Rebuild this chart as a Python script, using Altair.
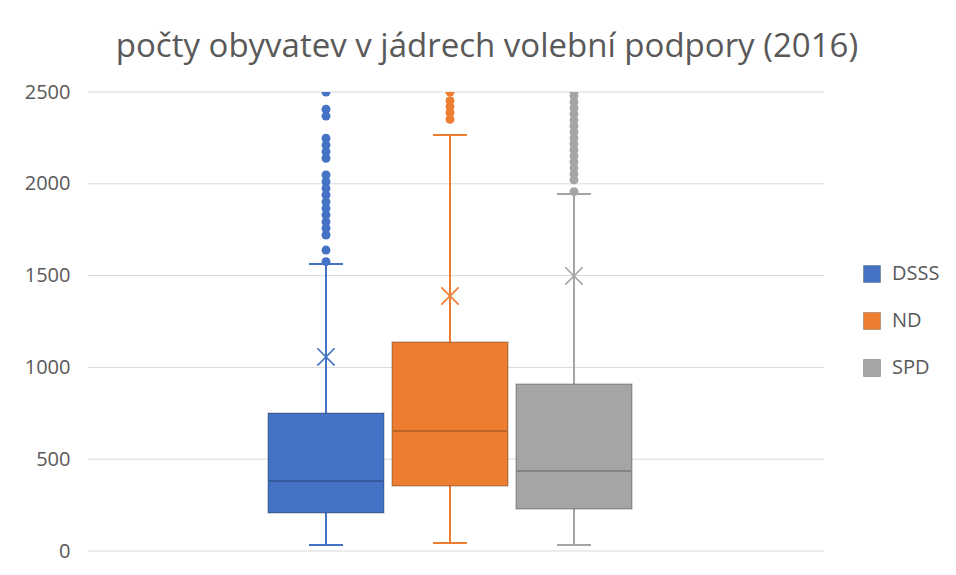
import altair as alt
import pandas as pd

series = ["DSSS", "ND", "SPD"]
colors = ["#4472C4", "#ED7D31", "#A5A5A5"]
whisker_low = [33, 44, 33]
q1 = [207, 354, 229]
median = [381, 654, 436]
q3 = [752, 1138, 910]
whisker_high = [1563, 2266, 1944]
mean = [1057, 1389, 1498]

out_dsss = [2500, 2406, 2369, 2248, 2211, 2175, 2139, 2048, 2011, 1975, 1939,
            1902, 1866, 1830, 1793, 1758, 1721, 1639, 1576]
out_nd = [2500, 2453, 2420, 2387, 2351]
out_spd = [2500, 2478, 2445, 2413, 2380, 2347, 2315, 2282, 2249, 2217, 2184,
           2151, 2119, 2086, 2053, 2021, 1957]

y_ticks = [0, 500, 1000, 1500, 2000, 2500]

stats = pd.DataFrame({
    "series": series, "lo": whisker_low, "q1": q1, "median": median,
    "q3": q3, "hi": whisker_high, "mean": mean,
})
outliers = pd.DataFrame(
    [{"series": "DSSS", "v": v} for v in out_dsss]
    + [{"series": "ND", "v": v} for v in out_nd]
    + [{"series": "SPD", "v": v} for v in out_spd]
)
grid = pd.DataFrame({"v": y_ticks})

FONT = "Open Sans"
TXT = "#595959"

xenc = alt.X("series:N", scale=alt.Scale(domain=series, range=[180, 544],
                                          paddingInner=0.0645, paddingOuter=0),
             axis=None)
yscale = alt.Scale(domain=[0, 2500], nice=False)
yaxis = alt.Axis(values=y_ticks, grid=False, domain=False, ticks=False,
                 format="d", labelFontSize=20, labelColor=TXT, labelPadding=18,
                 labelFont=FONT, title=None)

cscale = alt.Scale(domain=series, range=colors)
legend = alt.Legend(title=None, orient="none", legendX=774, legendY=172,
                    symbolType="square", symbolSize=289, rowPadding=25,
                    labelFontSize=20, labelColor=TXT, labelFont=FONT,
                    labelOffset=10, symbolStrokeWidth=1,
                    symbolStrokeColor="rgba(0,0,0,0.22)")


def col(show=False):
    return alt.Color("series:N", scale=cscale, legend=legend if show else None)


base = alt.Chart(stats)

grid_lines = alt.Chart(grid).mark_rule(color="#D9D9D9", strokeWidth=1).encode(
    y=alt.Y("v:Q", scale=yscale, axis=yaxis))
whisk_hi = base.mark_rule(strokeWidth=2).encode(
    x=xenc, y=alt.Y("q3:Q", scale=yscale), y2="hi:Q", color=col())
whisk_lo = base.mark_rule(strokeWidth=2).encode(
    x=xenc, y=alt.Y("lo:Q", scale=yscale), y2="q1:Q", color=col())
cap_hi = base.mark_tick(size=34, thickness=2, opacity=1).encode(
    x=xenc, y=alt.Y("hi:Q", scale=yscale), color=col())
cap_lo = base.mark_tick(size=34, thickness=2, opacity=1).encode(
    x=xenc, y=alt.Y("lo:Q", scale=yscale), color=col())
box = base.mark_bar(stroke="black", strokeOpacity=0.22, strokeWidth=1.5,
                    opacity=1).encode(
    x=xenc, y=alt.Y("q1:Q", scale=yscale), y2="q3:Q", color=col(True))
med = base.mark_tick(size=114, thickness=2, color="black", opacity=0.2).encode(
    x=xenc, y=alt.Y("median:Q", scale=yscale))
mean_pt = base.mark_point(shape="M-1,-1L1,1M-1,1L1,-1", filled=False, size=300,
                          strokeWidth=1.6, opacity=1).encode(
    x=xenc, y=alt.Y("mean:Q", scale=yscale), color=col())
out_pts = alt.Chart(outliers).mark_circle(size=80, opacity=1, clip=True).encode(
    x=xenc, y=alt.Y("v:Q", scale=yscale), color=col())

chart = alt.layer(
    grid_lines, whisk_hi, whisk_lo, cap_hi, cap_lo, box, med, mean_pt, out_pts
).resolve_legend(color="independent").properties(
    width=736, height=459,
    autosize=alt.AutoSizeParams(type="none"),
    padding={"left": 80, "top": 84, "right": 120, "bottom": 16},
    title=alt.Title("počty obyvatev v jádrech volební podpory (2016)",
                    font=FONT, fontSize=33, fontWeight="normal", color=TXT,
                    anchor="middle", dx=31, dy=33, offset=25,
                    baseline="alphabetic"),
).configure_view(stroke=None)

chart.save("out.html", embed_options={"renderer": "svg", "actions": False})
